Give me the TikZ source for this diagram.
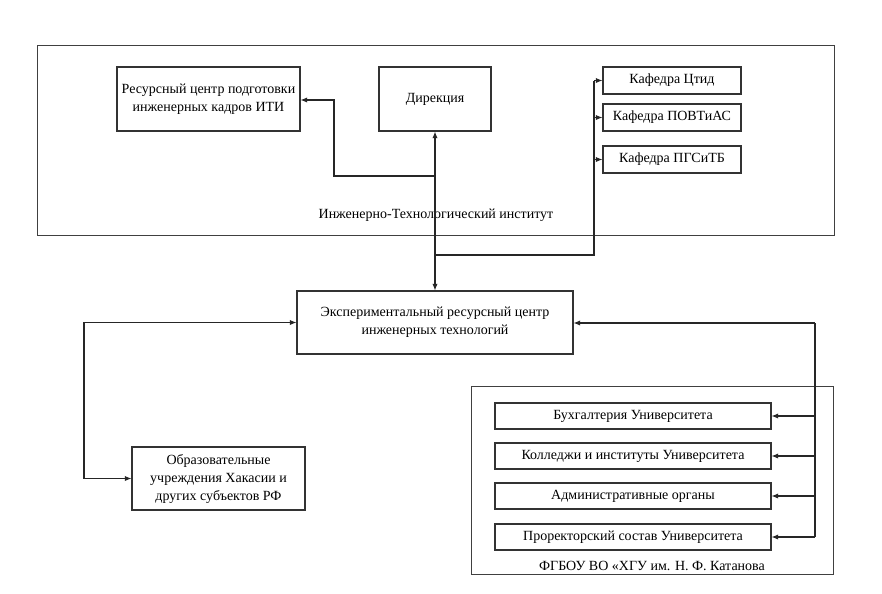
\documentclass[tikz,border=0pt]{standalone}
\usepackage{fontspec}
\setmainfont{Liberation Serif}
\usetikzlibrary{arrows.meta}
\begin{document}
\begin{tikzpicture}[x=0.75pt,y=-0.75pt,
  box/.style={draw=black!80,line width=0.8pt,align=center,inner sep=1pt,font=\fontsize{10.5}{13.5}\selectfont},
  frame/.style={draw=black!75,line width=0.7pt},
  conn/.style={draw=black!85,line width=0.8pt},
  tip/.style={-{Latex[length=5pt,width=4pt]}},
  lbl/.style={font=\fontsize{10.5}{13.5}\selectfont}
]
\useasboundingbox (0,0) rectangle (882,593);
% outer frames
\draw[frame] (37,45) rectangle (834,235);
\draw[frame] (471,386) rectangle (833,574);
\node[lbl] (itil) at (436,215) {Инженерно-Технологический институт};
\node[lbl] (fgl) at (652,566) {ФГБОУ ВО «ХГУ им. Н. Ф. Катанова};
% boxes
\node[box,minimum width=137.25pt,minimum height=48pt] (rc) at (208.5,99) {Ресурсный центр подготовки\\инженерных кадров ИТИ};
\node[box,minimum width=84pt,minimum height=48pt] (dir) at (435,99) {Дирекция};
\node[box,minimum width=103.5pt,minimum height=20.25pt] (k1) at (672,80.5) {Кафедра Цтид};
\node[box,minimum width=103.5pt,minimum height=20.25pt] (k2) at (672,117.5) {Кафедра ПОВТиАС};
\node[box,minimum width=103.5pt,minimum height=20.25pt] (k3) at (672,159.5) {Кафедра ПГСиТБ};
\node[box,minimum width=207pt,minimum height=47.25pt] (erc) at (435,322.5) {Экспериментальный ресурсный центр\\инженерных технологий};
\node[box,minimum width=129.75pt,minimum height=47.25pt] (edu) at (218.5,478.5) {Образовательные\\учреждения Хакасии и\\других субъектов РФ};
\node[box,minimum width=207pt,minimum height=19.5pt] (b1) at (633,416) {Бухгалтерия Университета};
\node[box,minimum width=207pt,minimum height=19.5pt] (b2) at (633,456) {Колледжи и институты Университета};
\node[box,minimum width=207pt,minimum height=19.5pt] (b3) at (633,496) {Административные органы};
\node[box,minimum width=207pt,minimum height=19.5pt] (b4) at (633,537) {Проректорский состав Университета};
% junction coordinates
\coordinate (jA) at (435,176);
\coordinate (jB) at (435,255);
\coordinate (kx) at (594,255);
\coordinate (rx) at (815,323);
% connectors
\draw[conn,{Latex[length=5pt,width=4pt]}-{Latex[length=5pt,width=4pt]}] (dir.south) -- (erc.north);
\draw[conn,tip] (jA) -| (334,100) -- (rc.east |- 0,100);
\draw[conn] (jB) -- (kx) -- (594,80.5);
\draw[conn,tip] (594,80.5) -- (k1.west);
\draw[conn,tip] (594,117.5) -- (k2.west);
\draw[conn,tip] (594,159.5) -- (k3.west);
\draw[conn,tip] (84,478.5) |- (erc.west);
\draw[conn,tip] (84,478.5) -- (edu.west);
\draw[conn,tip] (rx) -- (erc.east |- rx);
\draw[conn] (rx) -- (815,537);
\draw[conn,tip] (815,416) -- (b1.east);
\draw[conn,tip] (815,456) -- (b2.east);
\draw[conn,tip] (815,496) -- (b3.east);
\draw[conn,tip] (815,537) -- (b4.east);
\end{tikzpicture}
\end{document}
